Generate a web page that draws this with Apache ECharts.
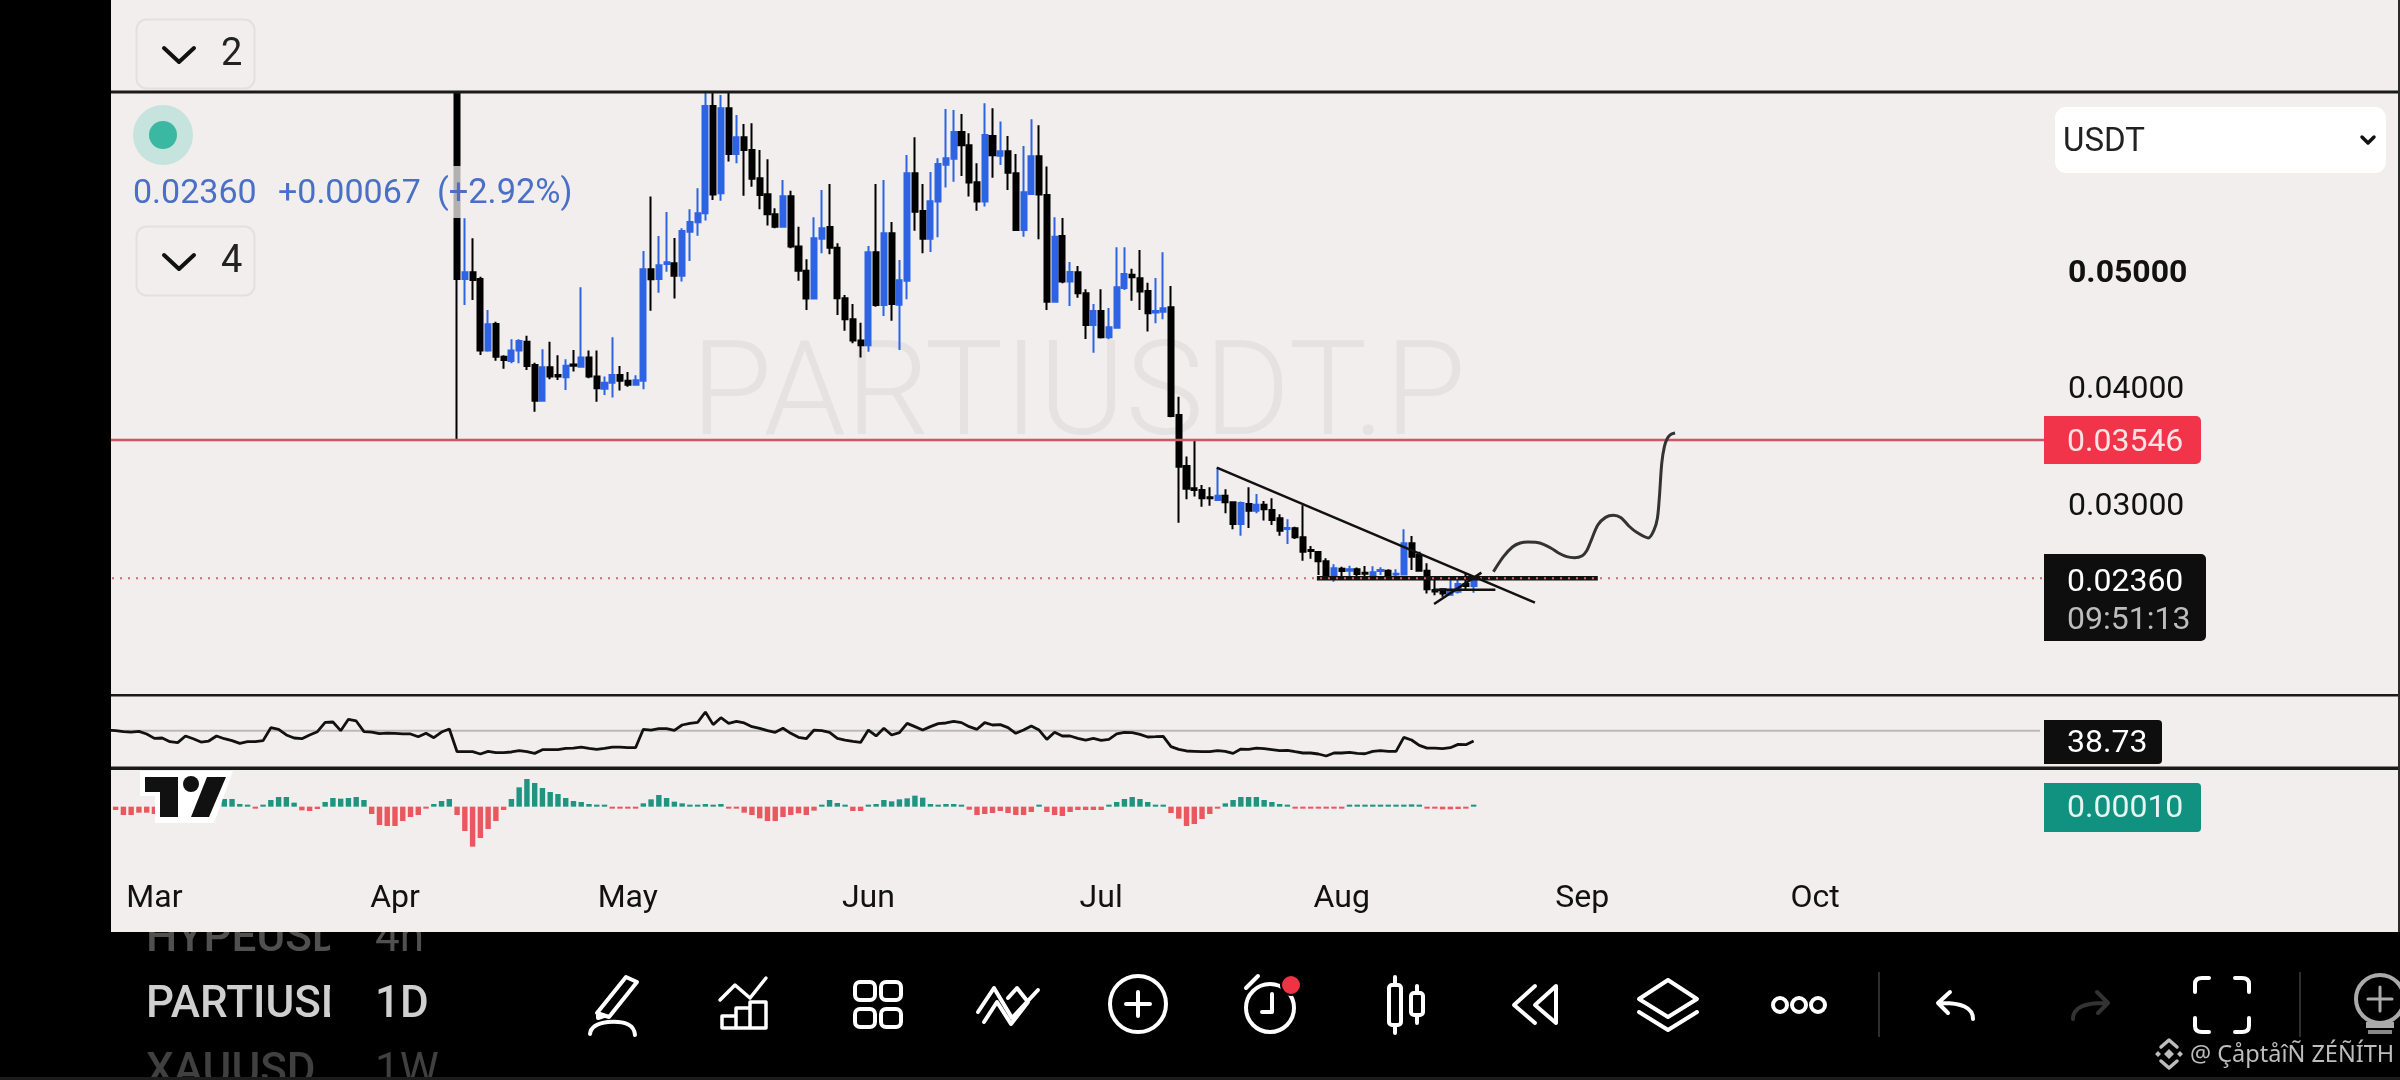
<!DOCTYPE html>
<html><head><meta charset="utf-8">
<style>html,body{margin:0;padding:0;background:#000}#c{width:2400px;height:1080px}</style>
<script src="https://cdn.jsdelivr.net/npm/echarts@6/dist/echarts.min.js"></script>
</head><body><div id="c"></div>
<script>
const opens=[.0653,.04926,.04984,.04926,.04312,.0454,.0426,.04223,.04312,.04389,.04189,.03883,.04169,.04103,.04083,.04194,.04174,.04254,.04089,.03986,.04037,.04103,.04054,.0402,.04054,.05009,.04926,.05055,.05061,.04955,.05332,.05412,.0549,.0641,.05661,.0639,.05998,.06141,.06033,.0579,.05653,.05481,.05375,.05635,.05204,.04998,.04758,.05272,.05372,.05195,.04761,.0458,.04398,.04357,.05155,.04703,.05318,.04706,.04912,.05833,.0551,.05272,.0559,.05907,.05958,.06187,.06073,.05755,.0559,.06153,.05984,.06021,.05833,.05347,.05655,.05978,.05647,.04732,.05295,.04904,.04984,.04803,.04532,.04652,.04426,.04509,.04849,.04963,.04932,.04823,.0464,.04646,.04683,.0376,.03323,.03131,.03117,.03054,.03031,.03068,.03011,.02825,.02997,.02939,.02991,.02945,.02874,.02782,.02788,.02711,.02602,.02585,.02505,.02368,.02442,.02425,.02436,.02408,.02371,.02422,.02425,.02391,.02391,.02659,.02559,.02425,.02259,.02265,.02219,.02245,.0231,.02293];
const closes=[.04926,.04984,.04918,.04312,.04538,.0426,.04232,.04312,.04395,.0418,.03883,.04169,.04089,.04089,.04183,.04183,.04254,.04089,.03989,.04037,.04103,.04054,.0402,.04057,.05009,.04924,.05044,.05069,.04955,.05338,.05415,.0549,.0641,.0565,.0639,.05998,.06141,.06033,.05787,.05647,.05481,.05375,.05635,.05204,.04998,.04758,.05275,.05361,.05195,.04761,.0458,.04398,.04357,.05155,.04703,.05318,.04712,.04915,.05833,.05504,.05272,.05592,.05913,.05961,.06187,.06073,.05753,.0559,.06161,.05987,.06021,.05838,.05347,.0567,.05978,.0565,.04732,.05289,.04904,.04986,.04803,.04532,.04652,.04426,.04512,.04855,.04969,.04941,.04818,.04632,.04652,.04675,.03751,.03317,.03128,.03117,.03045,.03045,.03068,.03011,.02825,.03005,.02939,.02991,.02951,.02859,.02768,.02791,.02711,.02588,.02594,.02505,.02373,.02445,.02422,.02436,.02396,.02399,.02411,.02431,.02382,.02399,.02659,.02545,.02425,.02265,.02247,.0223,.02245,.0231,.02293,.0236];
const lows=[.03554,.04703,.04746,.04275,.04303,.04226,.04157,.04203,.04203,.04146,.03788,.03883,.04066,.0406,.03974,.04132,.04174,.04074,.03874,.03931,.03909,.03969,.04003,.04014,.0398,.04655,.04809,.04989,.04758,.04904,.05081,.05298,.05427,.05604,.05598,.05933,.05918,.05641,.05718,.05524,.05384,.05361,.05375,.05189,.04912,.0466,.04752,.05147,.05138,.04618,.04483,.04375,.04254,.04303,.04689,.04609,.04569,.04317,.04752,.05341,.05147,.05158,.05284,.0571,.05761,.0581,.05633,.05512,.05547,.05795,.05904,.0569,.05347,.05289,.05647,.05267,.0466,.04723,.04889,.04695,.04766,.04412,.04294,.04417,.04409,.04503,.04832,.0474,.0466,.04475,.04546,.0458,.0374,.02836,.03037,.0306,.02974,.02982,.03025,.02917,.02779,.02725,.02791,.02917,.02854,.02816,.02725,.02653,.02696,.0251,.02528,.02388,.02356,.0233,.02379,.02345,.02373,.02359,.02351,.02388,.02379,.02359,.02388,.02431,.02416,.0223,.02213,.02202,.02216,.0223,.02253,.02236];
const highs=[.0653,.05447,.05275,.04946,.0466,.0456,.04272,.04409,.04409,.0444,.04209,.04323,.04389,.04272,.04237,.04317,.04855,.04312,.04312,.04089,.04426,.0418,.04129,.041,.05167,.05633,.05295,.05501,.05278,.05361,.05524,.05704,.0653,.0653,.06504,.0653,.06333,.06256,.06261,.06033,.05953,.05532,.05775,.05684,.05375,.05095,.05455,.0569,.05741,.05232,.04789,.04712,.04552,.05209,.05741,.05775,.05415,.05089,.0599,.06141,.05741,.05844,.05961,.06384,.06376,.06342,.06176,.05918,.06433,.0639,.06276,.06153,.05998,.06067,.06296,.06244,.0589,.05455,.0545,.05072,.05038,.04838,.04712,.04838,.04678,.05198,.05198,.05015,.05175,.04895,.04935,.05155,.04866,.03917,.03403,.03546,.0316,.0314,.03308,.03122,.03017,.03017,.0314,.03082,.03022,.03045,.02908,.02865,.02802,.02985,.02636,.02594,.02531,.02479,.02459,.02468,.02451,.02465,.02462,.02454,.02436,.02436,.02779,.02722,.02588,.02488,.02345,.02273,.02345,.02373,.02402,.02373];
const rsiValues=[50.5,50,48.9,48.5,49.3,46.4,41.6,42,38,36.9,44.2,41.2,37.6,38.7,44.2,41.2,39.1,36.1,38,38,39.1,53.3,51.5,45.3,42,41.2,45.3,48.9,59.1,59.5,50,62.4,60.6,48.9,48.5,46.7,47.4,47.1,46.4,46.4,43.4,47.1,42.3,48.5,51.8,27,27,27,24.5,27.4,25.9,25.9,26.7,28.1,27,25.2,29.2,29.2,29.2,30.7,31,32.1,30.7,29.6,30.7,32.1,32.1,31.4,31.4,51.5,50.7,52.2,52.2,50.4,56.2,58,59.1,70.4,56.6,64.2,58,60.2,58.4,54.4,52.6,50,48.2,52.6,47.1,42.7,41.2,50.7,50,48.2,41.6,39.8,38.3,37.2,50.7,44.2,52.6,45.3,47.8,58,54.4,50.7,54.4,57.7,58.4,60.2,58.8,54.4,51.5,58.8,56.2,56.6,53.3,47.1,50.7,55.1,50.7,40.5,48.2,44.2,44.2,41.6,39.8,41.6,39.4,40.5,46.4,48.2,47.8,46,43.1,43.4,43.8,32.5,29.6,27.8,27.4,27,27,28.1,27.4,25.2,29.9,29.6,31,30.3,29.2,28.1,28.5,27,25.6,25.6,24.5,22.3,25.6,25.6,26.3,25.2,24.8,27.4,28.1,27.4,27.4,42.7,39.8,34,31,31,30.3,31.4,35,34.7,38.73];
// MACD histogram, in units of 0.00001
const macdHist=[-10,-20,-50,-50,-36,-36,-44,-30,-20,-10,10,20,36,40,46,46,46,16,10,-12,8,40,58,58,24,-22,-26,-14,28,52,48,52,58,40,-44,-110,-116,-116,-86,-62,-50,-8,16,34,46,-50,-146,-240,-188,-134,-86,-20,46,116,166,142,112,88,76,52,34,28,16,10,6,-8,-6,-6,-6,20,44,70,52,30,20,10,10,16,8,16,-8,-10,-36,-50,-70,-86,-86,-62,-50,-40,-50,-24,8,40,22,6,-26,-26,6,16,40,32,44,50,66,54,16,8,16,16,10,-18,-50,-44,-38,-26,-38,-50,-50,-32,6,-32,-50,-56,-32,-20,-20,-20,-20,10,28,46,58,46,28,10,6,-38,-72,-116,-104,-74,-44,-8,20,40,58,58,58,40,28,16,6,-6,-10,-12,-12,-12,-12,-12,6,6,8,8,8,8,8,8,14,10,-6,-12,-16,-16,-14,-10,10];
// day offsets counted from the first candle (Apr 9), price
const trendDownX=[97.9,138.9], trendDownY=[.03308,.0215];
const trendUpX=[125.9,132], trendUpY=[.02139,.02408];
const supportX=[110.8,147], supportY=[.0236,.0236];
const floorX=[125.8,133.8], floorY=[.02262,.02262];
const forecastX=[133.55,134.84,136,137,138,139,140,141,142,143,144,145,145.57,146,147,148,149,150,151,152,153.52,154.25,154.68,154.94,155.24,155.58,155.97,156.44,156.96];
const forecastY=[.02416,.02545,.02628,.02662,.02671,.02668,.02651,.02617,.02574,.02545,.02536,.02553,.02596,.0266,.02816,.02882,.029,.02879,.02808,.02754,.02705,.02774,.02874,.03059,.03345,.03488,.0356,.03594,.03605];
const priceTicks=[.03,.04,.05];
const alertPrice=.03546, lastPrice=.0236;
const monthNames=['Jan','Feb','Mar','Apr','May','Jun','Jul','Aug','Sep','Oct','Nov','Dec'];
const offset=45, total=250;
const days=[];for(let k=0;k<total;k++){const d=new Date(Date.UTC(2025,1,23+k));days.push(d.toISOString().slice(0,10));}

const FONT='Roboto';
const pad=a=>{const o=new Array(total).fill('-');a.forEach((v,i)=>o[i]=v);return o;};
const pairs=(xs,ys)=>xs.map((x,i)=>[x,ys[i]]);
const candles=days.map((_,k)=>{const i=k-offset;return i>=0&&i<opens.length?[opens[i],closes[i],lows[i],highs[i]]:['-','-','-','-'];});
const G='#1f9480',R='#e9585f',BLUE='#2e63e4',BK='#000';

const T=(text,x,y,size,fill,o={})=>({type:'text',z:o.z===undefined?20:o.z,silent:true,style:{text,x,y:o.family?y:y+3,fill,fontSize:size,fontFamily:o.family||FONT,fontWeight:o.weight||400,align:o.align||'left',verticalAlign:'middle'}});
const Rc=(x,y,w,h,fill,o={})=>({type:'rect',z:o.z===undefined?20:o.z,silent:true,shape:{x,y,width:w,height:h,r:o.r||0},style:{fill,stroke:o.stroke||null,lineWidth:o.lw||0}});
let pathCount=0;
const P=(d,o={})=>{const name='iconPath'+(pathCount++);echarts.graphic.registerShape(name,echarts.graphic.extendPath(d,{}));
 return {type:name,z:o.z||21,silent:true,style:{fill:o.fill||'none',stroke:o.stroke===undefined?'#fff':o.stroke,lineWidth:o.lw===undefined?4:o.lw,lineCap:'round',lineJoin:'round'}};};
const Cc=(cx,cy,r,o={})=>({type:'circle',z:o.z||21,silent:true,shape:{cx,cy,r},style:{fill:o.fill||'none',stroke:o.stroke===undefined?'#fff':o.stroke,lineWidth:o.lw===undefined?4:o.lw}});

const graphic=[
 // rows of the symbol list, partly hidden by the panel
 T('HYPEUSD',146,937,44,'#505050',{z:0,weight:500}),T('4h',375,937,44,'#505050',{z:5}),
 T('XAUUSD',146,1070,44,'#404040',{z:0,weight:500}),T('1W',375,1070,44,'#404040',{z:5}),
 Rc(0,1077,2400,3,'#1c1c1c',{z:6}),
 T('PARTIUSD',146,1003,44,'#cfcfcf',{z:3,weight:500}),Rc(330,932,45,148,'#000',{z:4}),T('1D',375,1003,44,'#cfcfcf',{z:5,weight:500}),
 Rc(111,0,2287,932,'#f1eeed',{z:8}),
 T('PARTIUSDT.P',691,398,132,'#e5e2e1',{z:9,weight:300}),
 // lines between panes
 Rc(111,90.5,2287,3,'#1a1a1a',{z:16}),Rc(111,694,2287,2.5,'#1a1a1a',{z:16}),Rc(111,766.5,2287,3.5,'#1a1a1a',{z:16}),
 // faded legend strip
 Rc(130,166,450,52,'rgba(241,238,237,0.74)',{z:17}),
 Rc(0,0,111,932,'#000',{z:18}),Rc(2398,0,2,932,'#2a2a2a',{z:18}),
 // buttons
 Rc(136.5,19.5,118,69,'#f1eeed',{r:10,stroke:'#e3e0df',lw:2}),
 P('M164 48 L179 62 L194 48',{stroke:'#111',lw:4}),T('2',221,52,38,'#222'),
 Rc(136.5,226.5,118,69,'#f1eeed',{r:10,stroke:'#e3e0df',lw:2}),
 P('M164 255 L179 269 L194 255',{stroke:'#111',lw:4}),T('4',221,259,38,'#222'),
 Cc(163,135,30,{fill:'#c6e3dd',stroke:null,lw:0}),Cc(163,135,14,{fill:'#3bb8a2',stroke:null,lw:0}),
 T('0.02360',133,191,34,'#4a6fc6'),T('+0.00067',278,191,34,'#4a6fc6'),T('(+2.92%)',437,191,34.4,'#4a6fc6'),
 // select
 Rc(2055,107,331,66,'#fff',{r:11}),T('USDT',2063,139.5,33,'#222'),
 P('M2362 137 L2368 143 L2374 137',{stroke:'#111',lw:3.5}),
 // price tags
 Rc(2044,416,157,48,'#f2344a',{r:[0,5,5,0]}),T('0.03546',2067,440,32,'#fde4e4'),
 Rc(2044,554,162,87,'#0e0e0e',{r:[0,5,5,0]}),T('0.02360',2067,579.5,32,'#fff'),T('09:51:13',2067,618,32,'#bdbdbd'),
 Rc(2044,720,118,44,'#0e0e0e',{r:[0,4,4,0]}),T('38.73',2067,741,32,'#fff'),
 Rc(2044,783,157,49,'#11917f',{r:[0,4,4,0]}),T('0.00010',2067,806,32,'#e6f5f2'),
 // logo
 {type:'polygon',z:19,silent:true,shape:{points:[[140,771],[233,771],[214,823],[155,823],[155,796],[140,796]]},style:{fill:'#fff'}},
 {type:'polygon',z:19,silent:true,shape:{points:[[145,777],[178,777],[178,817],[160,817],[160,792],[145,792]]},style:{fill:'#111'}},
 {type:'polygon',z:19,silent:true,shape:{points:[[207,777],[226,777],[209,817],[191,817]]},style:{fill:'#111'}},
 Cc(191,784,8,{fill:'#111',stroke:null,lw:0,z:19}),
 // toolbar icons
 P('M626 977 L637 982 L609 1017 L597 1013 Z M598 1013 L598 1018 L604 1016'),P('M590 1034 Q591 1024 608 1022 Q634 1020 635 1035',{lw:4}),
 P('M720 1000 L735 985 L750 998 L766 978 M722 1028 L722 1016 L736 1016 L736 1028 Z M736 1028 L736 1008 L750 1008 L750 1028 Z M750 1028 L750 1002 L766 1002 L766 1028 Z',{lw:3.5}),
 {type:'rect',z:21,silent:true,shape:{x:855,y:982,width:20,height:18,r:5},style:{fill:'none',stroke:'#fff',lineWidth:4}},
 {type:'rect',z:21,silent:true,shape:{x:881,y:982,width:20,height:18,r:5},style:{fill:'none',stroke:'#fff',lineWidth:4}},
 {type:'rect',z:21,silent:true,shape:{x:855,y:1009,width:20,height:18,r:5},style:{fill:'none',stroke:'#fff',lineWidth:4}},
 {type:'rect',z:21,silent:true,shape:{x:881,y:1009,width:20,height:18,r:5},style:{fill:'none',stroke:'#fff',lineWidth:4}},
 P('M978 1012 L994 988 L1012 1018 L1038 990 M984 1022 L997 1002 L1011 1024 L1028 1002 L1017 988 L1008 998',{lw:4}),
 Cc(1138,1004,28),P('M1138 992 L1138 1016 M1126 1004 L1150 1004'),
 Cc(1270,1008,24),P('M1272 994 L1272 1012 L1262 1012 M1246 988 L1258 976'),Cc(1291,985,10,{fill:'#ee3344',stroke:'#000',lw:2}),
 P('M1395 977 L1395 985 M1395 1025 L1395 1033 M1417 986 L1417 993 M1417 1015 L1417 1023'),
 {type:'rect',z:21,silent:true,shape:{x:1389,y:985,width:12,height:40,r:3},style:{fill:'none',stroke:'#fff',lineWidth:4}},
 {type:'rect',z:21,silent:true,shape:{x:1411,y:993,width:12,height:22,r:3},style:{fill:'none',stroke:'#fff',lineWidth:4}},
 P('M1535 986 L1514 1005 L1535 1023 M1556 986 L1535 1005 L1556 1023 Z'),
 P('M1668 980 L1697 999 L1668 1017 L1639 999 Z M1639 1012 L1668 1030 L1697 1012'),
 Cc(1780,1005,7),Cc(1799,1005,7),Cc(1818,1005,7),
 Rc(1878,972,2,65,'#2e2e2e'),Rc(2299,972,2,65,'#2e2e2e'),
 P('M1950 992 L1938 1003 L1948 1013 M1939 1003 Q1973 1002 1973 1019'),
 P('M2097 992 L2108 1003 L2098 1013 M2107 1003 Q2073 1002 2073 1019',{stroke:'#333'}),
 P('M2195 992 L2195 984 Q2195 978 2202 978 L2209 978 M2235 978 L2242 978 Q2249 978 2249 984 L2249 992 M2195 1018 L2195 1026 Q2195 1032 2202 1032 L2209 1032 M2235 1032 L2242 1032 Q2249 1032 2249 1026 L2249 1018'),
 Cc(2380,999,24,{stroke:'#aaa',lw:4}),P('M2380 987 L2380 1011 M2368 999 L2392 999',{stroke:'#aaa',lw:3}),Rc(2366,1022,28,6,'#aaa'),Rc(2368,1030,24,4,'#888'),
 // watermark
 P('M2169 1049 L2174 1054 L2169 1059 L2164 1054 Z M2158 1051 L2161 1054 L2158 1057 L2155 1054 Z M2180 1051 L2183 1054 L2180 1057 L2177 1054 Z',{fill:'#bdbdbd',stroke:null,lw:0}),
 P('M2161 1047 L2169 1040 L2177 1047 M2161 1061 L2169 1068 L2177 1061',{stroke:'#bdbdbd',lw:3.5}),
 T('@ ÇåptåîÑ ZÉÑÍTH',2190,1055,23.5,'#bdbdbd',{family:'Noto Sans'}),
];
const hiddenCat=(g)=>({type:'category',gridIndex:g,data:days,show:false});
const overlay=(name,xs,ys,color,width,extra={})=>Object.assign({type:'line',name,xAxisIndex:3,yAxisIndex:0,data:pairs(xs,ys),symbol:'none',silent:true,z:12,lineStyle:{color,width,type:extra.dash||'solid'}},extra.smooth?{smooth:extra.smooth}:{});

const option={
 animation:false,backgroundColor:'#000',graphic:{elements:graphic},
 grid:[{left:104,top:92,width:1940,height:603},{left:104,top:695,width:1940,height:73},{left:104,top:768,width:1940,height:98}],
 xAxis:[hiddenCat(0),hiddenCat(1),
  {type:'category',gridIndex:2,data:days,z:15,axisLine:{show:false},axisTick:{show:false},
   axisLabel:{interval:(idx,v)=>v.slice(8)==='01',formatter:v=>monthNames[+v.slice(5,7)-1],color:'#111',fontFamily:FONT,fontSize:32,margin:17,hideOverlap:false}},
  {type:'value',gridIndex:0,show:false,min:-45.5,max:204.5}],
 yAxis:[
  {type:'value',gridIndex:0,position:'right',z:15,min:.013585,max:.0653,splitLine:{show:false},axisLine:{show:false},axisTick:{show:false},
   axisLabel:{customValues:priceTicks,margin:24,formatter:v=>Math.abs(v-.05)<1e-9?'{b|'+v.toFixed(5)+'}':'{n|'+v.toFixed(5)+'}',
    rich:{b:{fontFamily:FONT,fontSize:32,fontWeight:700,color:'#111',padding:[7,0,0,0]},n:{fontFamily:FONT,fontSize:32,color:'#111',padding:[7,0,0,0]}}}},
  {type:'value',gridIndex:1,min:9.2,max:89,show:false,splitLine:{show:false}},
  {type:'value',gridIndex:2,min:-356,max:232,show:false,splitLine:{show:false}}],
 series:[
  {type:'candlestick',name:'PARTIUSDT.P',xAxisIndex:0,yAxisIndex:0,data:candles,barWidth:5.6,z:11,silent:true,
   itemStyle:{color:BLUE,color0:BK,borderColor:BLUE,borderColor0:BK,borderWidth:2}},
  overlay('alert',[-45.5,204.5],[alertPrice,alertPrice],'#cf5562',2.5),
  overlay('support',supportX,supportY,'#111',4.5),
  overlay('last',[-45.5,204.5],[lastPrice,lastPrice],'#cc6a72',2,{dash:[2,6]}),
  overlay('trendDown',trendDownX,trendDownY,'#111',2.5),
  overlay('trendUp',trendUpX,trendUpY,'#111',2.5),
  overlay('floor',floorX,floorY,'#111',2.5),
  overlay('forecast',forecastX,forecastY,'#333',3,{smooth:.3}),
  {type:'line',name:'RSI mid',xAxisIndex:1,yAxisIndex:1,data:[[0,50],[total-1,50]],symbol:'none',silent:true,z:10,lineStyle:{color:'#bdb9b7',width:2}},
  {type:'line',name:'RSI',xAxisIndex:1,yAxisIndex:1,data:pad(rsiValues),symbol:'none',silent:true,z:11,lineStyle:{color:'#111',width:2.8}},
  {type:'bar',name:'MACD',xAxisIndex:2,yAxisIndex:2,barWidth:5.4,barMinHeight:2,silent:true,z:11,
   data:pad(macdHist).map(v=>v==='-'?'-':({value:v,itemStyle:{color:v>=0?G:R}}))}
 ]
};
echarts.init(document.getElementById('c'),null,{renderer:'canvas',width:2400,height:1080}).setOption(option);
</script></body></html>
